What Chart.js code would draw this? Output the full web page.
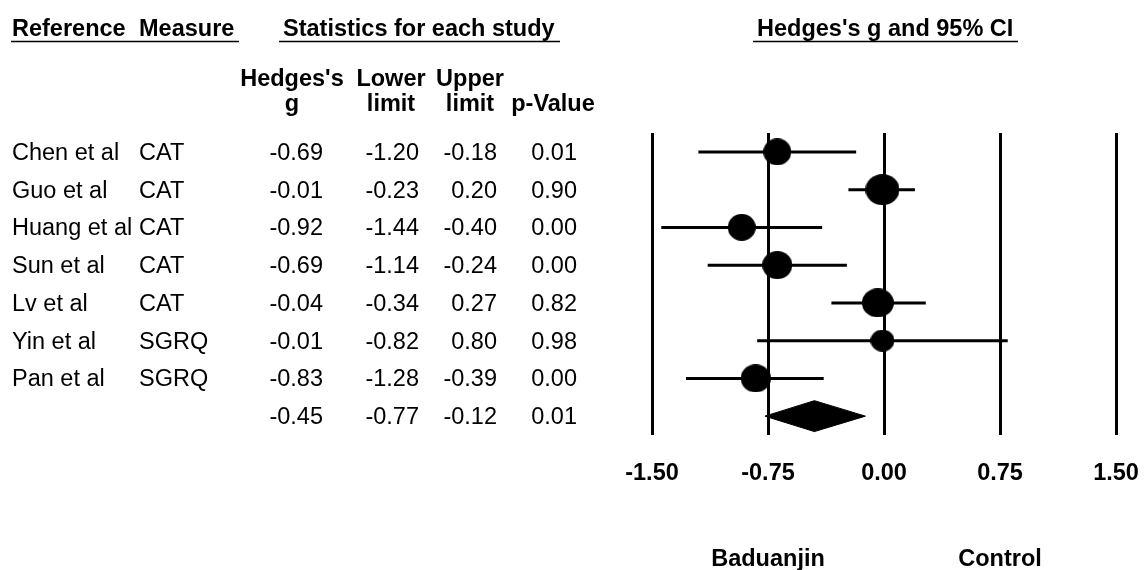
<!DOCTYPE html>
<html lang="en">
<head>
<meta charset="UTF-8">
<title>Forest plot - Baduanjin vs Control</title>
<style>
  body { margin: 0; background: #fff; }
  #wrap { width: 1144px; height: 570px; }
</style>
</head>
<body>
<div id="wrap"><canvas id="forest" width="1144" height="570"></canvas></div>
<script src="https://cdn.jsdelivr.net/npm/chart.js@4.4.0/dist/chart.umd.min.js"></script>
<script>
// study data
const studies = ["Chen et al", "Guo et al", "Huang et al", "Sun et al", "Lv et al", "Yin et al", "Pan et al"];
const measures = ["CAT", "CAT", "CAT", "CAT", "CAT", "SGRQ", "SGRQ"];
const hedgesG = [-0.69, -0.01, -0.92, -0.69, -0.04, -0.01, -0.83];
const lowerLimit = [-1.20, -0.23, -1.44, -1.14, -0.34, -0.82, -1.28];
const upperLimit = [-0.18, 0.20, -0.40, -0.24, 0.27, 0.80, -0.39];
const pValues = [0.01, 0.90, 0.00, 0.00, 0.82, 0.98, 0.00];
// pooled estimate
const pooledG = -0.45;
const pooledLower = -0.77;
const pooledUpper = -0.12;
const pooledP = 0.01;
// axis
const xTicks = [-1.5, -0.75, 0, 0.75, 1.5];
const favourLabels = ["Baduanjin", "Control"];
const favourAt = [-0.75, 0.75];

// styling: marker ellipse sizes (w, h) in px
const markerW = [28, 34, 28, 30, 32, 24, 30];
const markerH = [27, 31, 27, 28, 29, 22, 28];
const diamondHalf = 0.41;
const FONT = "'Liberation Sans', Arial, sans-serif";
Chart.defaults.color = "#000";

const pooledRow = studies.length;

// ellipse images for the markers
const markerImgs = markerW.map((w, i) => {
    const h = markerH[i];
    const c = document.createElement("canvas");
    c.width = w;
    c.height = h;
    const g = c.getContext("2d");
    g.fillStyle = "#000";
    g.beginPath();
    g.ellipse(w / 2, h / 2, w / 2, h / 2, 0, 0, Math.PI * 2);
    g.fill();
    return c;
});

// CI segments, broken with null points
const ciPoints = [];
studies.forEach((s, i) => {
    ciPoints.push({ x: lowerLimit[i], y: i });
    ciPoints.push({ x: upperLimit[i], y: i });
    ciPoints.push({ x: null, y: null });
});

const diamond = [
    { x: pooledLower, y: pooledRow },
    { x: pooledG, y: pooledRow - diamondHalf },
    { x: pooledUpper, y: pooledRow },
    { x: pooledG, y: pooledRow + diamondHalf },
    { x: pooledLower, y: pooledRow },
];

const fmt = v => v.toFixed(2);

const tablePlugin = {
    id: "forestTable",
    afterDraw(chart) {
        const ctx = chart.ctx;
        const xs = chart.scales.x;
        const ys = chart.scales.y;
        ctx.save();
        ctx.fillStyle = "#000";
        ctx.strokeStyle = "#000";
        ctx.textBaseline = "alphabetic";

        // top headers
        ctx.font = "bold 23.5px " + FONT;
        ctx.textAlign = "left";
        ctx.fillText("Reference", 12, 36);
        ctx.fillText("Measure", 139, 36);
        ctx.fillText("Statistics for each study", 283, 36);
        ctx.fillText("Hedges's g and 95% CI", 757, 36);
        ctx.lineWidth = 1.5;
        [[11, 239], [279, 560], [753, 1018]].forEach(([a, b]) => {
            ctx.beginPath();
            ctx.moveTo(a, 41.5);
            ctx.lineTo(b, 41.5);
            ctx.stroke();
        });

        // column headers
        ctx.textAlign = "center";
        [["Hedges's", "g", 292], ["Lower", "limit", 391], ["Upper", "limit", 470], ["", "p-Value", 553]]
            .forEach(([l1, l2, cx]) => {
                ctx.fillText(l1, cx, 86);
                ctx.fillText(l2, cx, 111);
            });

        // x tick labels
        xTicks.forEach(v => ctx.fillText(fmt(v), xs.getPixelForValue(v), 480));

        // favours labels
        favourLabels.forEach((t, i) => ctx.fillText(t, xs.getPixelForValue(favourAt[i]), 566));

        // rows
        ctx.font = "23.5px " + FONT;
        studies.forEach((name, i) => {
            const py = ys.getPixelForValue(i) + 8;
            ctx.textAlign = "left";
            ctx.fillText(name, 12, py);
            ctx.fillText(measures[i], 139, py);
            ctx.textAlign = "right";
            ctx.fillText(fmt(hedgesG[i]), 323, py);
            ctx.fillText(fmt(lowerLimit[i]), 419, py);
            ctx.fillText(fmt(upperLimit[i]), 497, py);
            ctx.fillText(fmt(pValues[i]), 577, py);
        });
        const pp = ys.getPixelForValue(pooledRow) + 8;
        ctx.fillText(fmt(pooledG), 323, pp);
        ctx.fillText(fmt(pooledLower), 419, pp);
        ctx.fillText(fmt(pooledUpper), 497, pp);
        ctx.fillText(fmt(pooledP), 577, pp);
        ctx.restore();
    }
};

new Chart("forest", {
    type: "scatter",
    data: {
        datasets: [
            {
                data: ciPoints,
                showLine: true,
                spanGaps: false,
                borderColor: "#000",
                borderWidth: 3,
                pointRadius: 0,
            },
            {
                data: hedgesG.map((g, i) => ({ x: g, y: i })),
                backgroundColor: "#000",
                borderWidth: 0,
                pointStyle: markerImgs,
                pointRadius: 15,
            },
            {
                data: diamond,
                showLine: true,
                borderColor: "#000",
                borderWidth: 1,
                backgroundColor: "#000",
                fill: "shape",
                pointRadius: 0,
                tension: 0,
            },
        ],
    },
    options: {
        responsive: false,
        animation: false,
        events: [],
        layout: { padding: { left: 652, right: 28, top: 133, bottom: 135 } },
        plugins: { legend: { display: false }, tooltip: { enabled: false } },
        scales: {
            x: {
                type: "linear",
                min: -1.5,
                max: 1.5,
                afterBuildTicks: axis => { axis.ticks = xTicks.map(v => ({ value: v })); },
                ticks: { display: false, padding: 0 },
                grid: { color: "#000", lineWidth: 3, drawTicks: false },
                border: { display: false },
            },
            y: {
                display: false,
                reverse: true,
                min: -0.5,
                max: 7.5,
            },
        },
    },
    plugins: [tablePlugin],
});
</script>
</body>
</html>
